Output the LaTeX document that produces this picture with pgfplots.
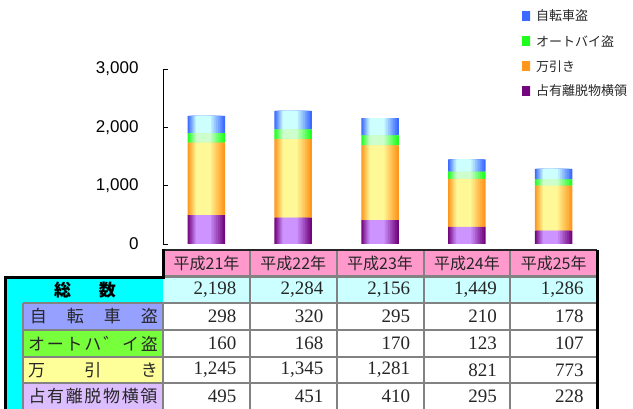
\documentclass[border=0pt]{standalone}
\usepackage{fontspec}
\setmainfont{Liberation Sans}
\newfontfamily\jp{Noto Sans CJK JP}
\newfontfamily\ser{Liberation Serif}
\usepackage{pgfplots}
\usepackage{pgfplotstable}
\pgfplotsset{compat=1.18}
\definecolor{blueE}{RGB}{60,105,255}
\definecolor{blueM}{RGB}{205,255,255}
\definecolor{greenE}{RGB}{30,255,30}
\definecolor{greenM}{RGB}{205,255,205}
\definecolor{orE}{RGB}{255,150,30}
\definecolor{orM}{RGB}{255,248,150}
\definecolor{purE}{RGB}{115,5,125}
\definecolor{purM}{RGB}{205,148,255}
\definecolor{hdrPink}{RGB}{255,153,204}
\definecolor{totCyan}{RGB}{204,255,255}
\definecolor{bigCyan}{RGB}{0,255,255}
\definecolor{lblBlue}{RGB}{150,160,255}
\definecolor{lblGreen}{RGB}{120,255,60}
\definecolor{lblYellow}{RGB}{255,255,153}
\definecolor{lblPurple}{RGB}{220,190,255}
\definecolor{gridGray}{RGB}{130,130,130}
\pgfplotstableread{
x pur or gr bl
0 495 1245 160 298
1 451 1345 168 320
2 410 1281 170 295
3 295 821 123 210
4 228 773 107 178
}\data
\pgfplotsset{base/.style={
  at={(163pt,-244pt)}, anchor=south west,
  scale only axis, width=434pt, height=175pt,
  xmin=-0.5, xmax=4.5, ymin=0, ymax=3000}}
\begin{document}
\begin{tikzpicture}
\useasboundingbox (0,0) rectangle (633pt,-409pt);
\clip (0,0) rectangle (633pt,-409pt);
% stepped horizontal gradient: overlaid stacked bars, narrower and lighter
\foreach \k in {0,...,11}{
  \pgfmathsetmacro\bw{37.5*(1-0.9*\k/12)}
  \pgfmathsetmacro\bs{-4.5*\k/12}
  \pgfmathtruncatemacro\p{min(100,150*\k/12)}
  \begin{axis}[base, hide axis, ybar stacked, bar width=\bw pt, bar shift=\bs pt]
  \addplot[draw=none, fill=purM!\p!purE] table[x=x,y=pur]{\data};
  \addplot[draw=none, fill=orM!\p!orE] table[x=x,y=or]{\data};
  \addplot[draw=none, fill=greenM!\p!greenE] table[x=x,y=gr]{\data};
  \addplot[draw=none, fill=blueM!\p!blueE] table[x=x,y=bl]{\data};
  \end{axis}
}
\begin{axis}[base,
  axis x line=none, axis y line*=left,
  y axis line style={black, line width=0.8pt},
  ytick={0,1000,2000,3000},
  tick align=inside, major tick length=5pt,
  ytick style={black, line width=0.8pt},
  /pgf/number format/assume math mode=true,
  /pgf/number format/1000 sep={,},
  yticklabel style={font=\fontsize{17}{17}\selectfont, xshift=-21pt},
]
\end{axis}
\begin{scope}[x=1pt,y=-1pt]
% legend
\foreach \y/\ce/\cm/\t in {16/blueE/blueM/自転車盗, 41.5/greenE/greenM/オートバイ盗, 66.5/orE/orM/万引き, 91/purE/purM/占有離脱物横領}{
  \path[left color=\ce, middle color=\cm, right color=\ce] (522,\y-4.5) rectangle (530,\y+4.5);
  \node[anchor=west, inner sep=0pt, font=\jp\fontsize{13}{13}\selectfont, text=black!85] at (536,\y) {\t};
}
% big cyan label area
\fill[bigCyan] (5,277) rectangle (163,420);
% header
\fill[hdrPink] (163,250) rectangle (597,276.5);
\fill[totCyan] (163,276.5) rectangle (597,303);
\fill[white] (163,303) rectangle (597,420);
% label cells
\fill[lblBlue] (23,303) rectangle (163,330);
\fill[lblGreen] (23,330) rectangle (163,357);
\fill[lblYellow] (23,357) rectangle (163,383);
\fill[lblPurple] (23,383) rectangle (163,410);
% grid
\foreach \yy in {276.5,303,330,357,383}{
  \draw[gridGray, line width=2.4pt] (163,\yy) -- (597,\yy);
}
\foreach \yy in {330,357,383}{
  \draw[gridGray, line width=2.4pt] (23,\yy) -- (163,\yy);
}
\draw[gridGray, line width=2.4pt] (23,303) -- (163,303);
\draw[gridGray, line width=2.4pt] (23,303) -- (23,420);
\foreach \xx in {250,337,424,510}{
  \draw[gridGray, line width=2.4pt] (\xx,250) -- (\xx,420);
}
\draw[gridGray, line width=2.4pt] (163,303) -- (163,420);
% thick black borders
\draw[black!85, line width=2.6pt] (163,250) -- (597,250);
\draw[black, line width=3pt] (597,250) -- (597,420);
\draw[black, line width=3pt] (163,249) -- (163,277.5) -- (5,277.5) -- (5,420);
% header text
\foreach \t [count=\i from 0] in {平成21年,平成22年,平成23年,平成24年,平成25年}{
  \node[font=\jp\fontsize{16}{16}\selectfont, text=black!85] at (206.5+86.8*\i,263.5) {\t};
}
% totals
\node[font=\jp\bfseries\fontsize{17}{17}\selectfont] at (85,290) {\makebox[62pt]{総\hfill 数}};
\foreach \v [count=\i from 0] in {{2,198},{2,284},{2,156},{1,449},{1,286}}{
  \node[anchor=east, font=\ser\fontsize{19}{19}\selectfont, text=black!85] at (240+86.8*\i,290) {\v};
}
\foreach \v [count=\i from 0] in {298,320,295,210,178}{
  \node[anchor=east, font=\ser\fontsize{19}{19}\selectfont, text=black!85] at (240+86.8*\i,316.5) {\v};
}
\foreach \v [count=\i from 0] in {160,168,170,123,107}{
  \node[anchor=east, font=\ser\fontsize{19}{19}\selectfont, text=black!85] at (240+86.8*\i,343.5) {\v};
}
\foreach \v [count=\i from 0] in {{1,245},{1,345},{1,281},821,773}{
  \node[anchor=east, font=\ser\fontsize{19}{19}\selectfont, text=black!85] at (240+86.8*\i,370) {\v};
}
\foreach \v [count=\i from 0] in {495,451,410,295,228}{
  \node[anchor=east, font=\ser\fontsize{19}{19}\selectfont, text=black!85] at (240+86.8*\i,396.5) {\v};
}
% row labels
\node[font=\jp\fontsize{17}{17}\selectfont, text=black!85] at (94,316.5) {\makebox[128pt]{自\hfill 転\hfill 車\hfill 盗}};
\node[font=\jp\fontsize{17}{17}\selectfont, text=black!85] at (93,343.5) {\makebox[130pt]{オ\hfill ー\hfill ト\hfill ハ\hfill ゛\hfill イ\hfill 盗}};
\node[font=\jp\fontsize{17}{17}\selectfont, text=black!85] at (93,370) {\makebox[130pt]{万\hfill 引\hfill き}};
\node[font=\jp\fontsize{17}{17}\selectfont, text=black!85] at (93,396.5) {\makebox[129pt]{占\hfill 有\hfill 離\hfill 脱\hfill 物\hfill 横\hfill 領}};
\end{scope}
\end{tikzpicture}
\end{document}
